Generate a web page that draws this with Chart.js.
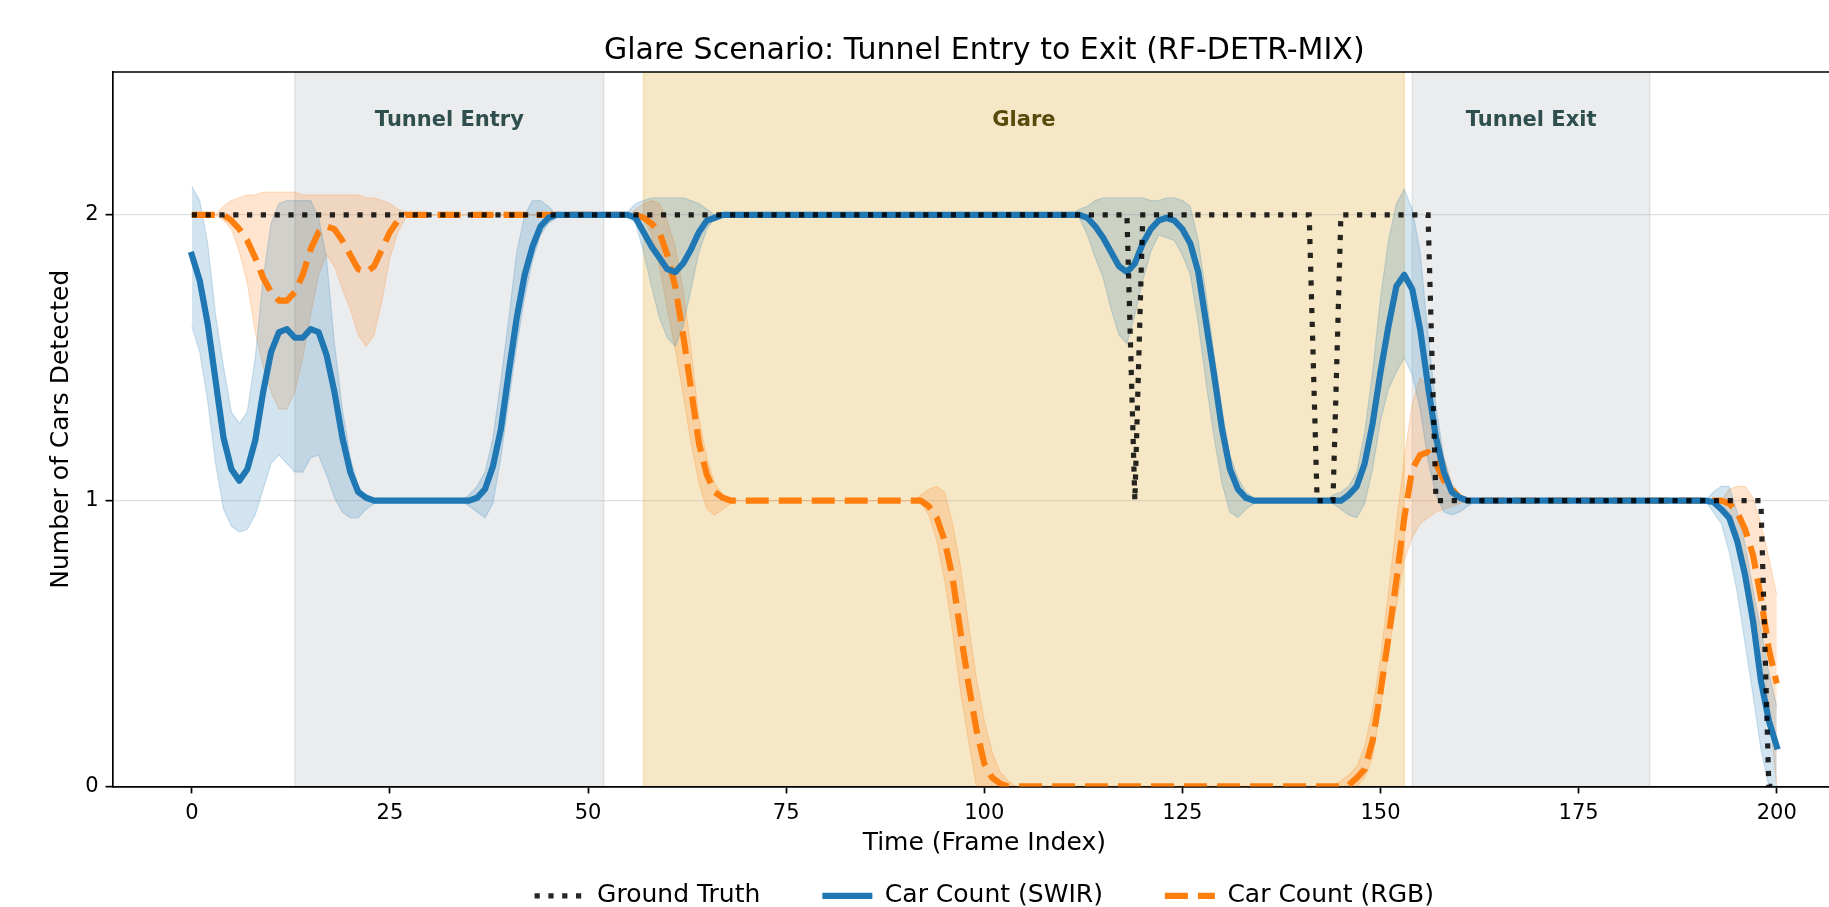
<!DOCTYPE html>
<html>
<head>
<meta charset="utf-8">
<title>Glare Scenario: Tunnel Entry to Exit (RF-DETR-MIX)</title>
<script src="https://cdn.jsdelivr.net/npm/chart.js@4.4.0/dist/chart.umd.min.js"></script>
<style>
    html, body { margin: 0; padding: 0; background: #fff; overflow: hidden; }
    #frame { width: 1829px; height: 907px; overflow: hidden; position: relative; }
    #box { width: 1870px; height: 907px; position: absolute; left: 0; top: 0; }
</style>
</head>
<body>
<div id="frame"><div id="box"><canvas id="glareChart"></canvas></div></div>
<script>
// Axis ticks
const frameTicks = [0, 25, 50, 75, 100, 125, 150, 175, 200];
const countTicks = [0, 1, 2];

// Scenario phases (frame ranges)
const phaseNames = ["Tunnel Entry", "Glare", "Tunnel Exit"];
const phaseStart = [13, 57, 154];
const phaseEnd = [52, 153, 184];

// Ground truth count
const gtFrames = [0, 118, 119, 120, 141, 142, 144, 145, 156, 157, 198, 199, 200];
const gtCount = [2, 2, 1, 2, 2, 1, 1, 2, 2, 1, 1, 0, 0];

// SWIR detections: mean and spread band
const swirFrames = [
    0, 1, 2, 3, 4, 5, 6, 7, 8, 9, 10, 11, 12, 13, 14, 15, 16, 17, 18, 19, 20, 21, 22, 23, 24,
    34, 35, 36, 37, 38, 39, 40, 41, 42, 43, 44, 45, 46, 47,
    55, 56, 57, 58, 59, 60, 61, 62, 63, 64, 65, 66, 67,
    111, 112, 113, 114, 115, 116, 117, 118, 119, 120, 121, 122, 123, 124, 125, 126, 127, 128, 129, 130, 131, 132, 133, 134, 135,
    143, 144, 145, 146, 147, 148, 149, 150, 151, 152, 153, 154, 155, 156, 157, 158, 159, 160, 161, 162,
    191, 192, 193, 194, 195, 196, 197, 198, 199, 200
];
const swirMean = [
    1.86, 1.77, 1.62, 1.42, 1.22, 1.11, 1.07, 1.11, 1.21, 1.38, 1.52, 1.59, 1.60, 1.57, 1.57, 1.60, 1.59, 1.51, 1.38, 1.22, 1.10, 1.03, 1.01, 1.00, 1.00,
    1.00, 1.00, 1.01, 1.04, 1.12, 1.25, 1.45, 1.64, 1.79, 1.89, 1.96, 1.99, 2.00, 2.00,
    2.00, 1.99, 1.94, 1.89, 1.85, 1.81, 1.80, 1.83, 1.88, 1.94, 1.98, 1.99, 2.00,
    2.00, 2.00, 1.99, 1.96, 1.92, 1.87, 1.82, 1.80, 1.83, 1.90, 1.95, 1.98, 1.99, 1.98, 1.95, 1.90, 1.80, 1.62, 1.44, 1.25, 1.11, 1.04, 1.01, 1.00, 1.00,
    1.00, 1.00, 1.00, 1.02, 1.05, 1.13, 1.27, 1.45, 1.61, 1.75, 1.79, 1.74, 1.60, 1.40, 1.22, 1.10, 1.03, 1.01, 1.00, 1.00,
    1.00, 0.995, 0.97, 0.94, 0.86, 0.74, 0.58, 0.37, 0.23, 0.14
];
const swirHigh = [
    2.10, 2.05, 1.90, 1.65, 1.47, 1.31, 1.27, 1.31, 1.50, 1.78, 1.97, 2.04, 2.05, 2.05, 2.05, 2.05, 1.99, 1.85, 1.55, 1.32, 1.15, 1.05, 1.01, 1.00, 1.00,
    1.00, 1.02, 1.05, 1.10, 1.22, 1.42, 1.64, 1.87, 2.00, 2.05, 2.05, 2.03, 2.00, 2.00,
    2.01, 2.04, 2.05, 2.06, 2.06, 2.06, 2.06, 2.06, 2.05, 2.04, 2.02, 2.00, 2.00,
    2.00, 2.02, 2.03, 2.05, 2.06, 2.06, 2.06, 2.06, 2.06, 2.06, 2.05, 2.05, 2.06, 2.06, 2.05, 2.03, 1.91, 1.72, 1.51, 1.32, 1.16, 1.08, 1.03, 1.01, 1.00,
    1.00, 1.02, 1.03, 1.05, 1.10, 1.24, 1.45, 1.71, 1.91, 2.04, 2.09, 2.02, 1.87, 1.58, 1.33, 1.15, 1.05, 1.02, 1.00, 1.00,
    1.00, 1.03, 1.05, 1.05, 0.96, 0.85, 0.69, 0.55, 0.40, 0.28
];
const swirLow = [
    1.61, 1.52, 1.35, 1.13, 0.97, 0.91, 0.89, 0.90, 0.95, 1.04, 1.13, 1.16, 1.13, 1.10, 1.10, 1.15, 1.16, 1.09, 1.01, 0.96, 0.94, 0.94, 0.97, 0.99, 1.00,
    1.00, 0.98, 0.96, 0.94, 0.99, 1.15, 1.35, 1.54, 1.71, 1.84, 1.93, 1.97, 1.99, 2.00,
    2.00, 1.97, 1.87, 1.75, 1.64, 1.57, 1.54, 1.61, 1.74, 1.87, 1.95, 1.99, 2.00,
    2.00, 1.99, 1.93, 1.85, 1.78, 1.67, 1.58, 1.55, 1.65, 1.77, 1.87, 1.93, 1.92, 1.91, 1.86, 1.79, 1.62, 1.41, 1.22, 1.06, 0.96, 0.94, 0.97, 0.99, 1.00,
    1.00, 0.99, 0.97, 0.95, 0.94, 0.99, 1.11, 1.28, 1.39, 1.45, 1.50, 1.44, 1.32, 1.14, 1.02, 0.96, 0.95, 0.96, 0.98, 1.00,
    1.00, 0.96, 0.92, 0.82, 0.68, 0.50, 0.32, 0.13, 0.00, 0.00
];

// RGB detections: mean and spread band
const rgbFrames = [
    0, 3, 4, 5, 6, 7, 8, 9, 10, 11, 12, 13, 14, 15, 16, 17, 18, 19, 20, 21, 22, 23, 24, 25, 26, 27, 28,
    55, 56, 57, 58, 59, 60, 61, 62, 63, 64, 65, 66, 67, 68, 69,
    91, 92, 93, 94, 95, 96, 97, 98, 99, 100, 101, 102, 103, 104,
    144, 145, 146, 147, 148, 149, 150, 151, 152, 153, 154, 155, 156, 157, 158, 159, 160, 161,
    193, 194, 195, 196, 197, 198, 199, 200
];
const rgbMean = [
    2.00, 2.00, 2.00, 1.98, 1.95, 1.91, 1.85, 1.78, 1.73, 1.70, 1.70, 1.73, 1.79, 1.88, 1.94, 1.96, 1.95, 1.91, 1.86, 1.81, 1.80, 1.82, 1.88, 1.94, 1.98, 2.00, 2.00,
    2.00, 2.00, 1.99, 1.97, 1.94, 1.86, 1.75, 1.58, 1.39, 1.20, 1.09, 1.03, 1.01, 1.00, 1.00,
    1.00, 1.00, 0.98, 0.94, 0.86, 0.73, 0.54, 0.36, 0.20, 0.08, 0.03, 0.01, 0.00, 0.00,
    0.00, 0.00, 0.005, 0.03, 0.06, 0.16, 0.33, 0.52, 0.72, 0.94, 1.11, 1.16, 1.17, 1.13, 1.07, 1.04, 1.01, 1.00,
    1.00, 0.99, 0.96, 0.90, 0.81, 0.66, 0.48, 0.36
];
const rgbHigh = [
    2.00, 2.00, 2.03, 2.05, 2.06, 2.07, 2.07, 2.08, 2.08, 2.08, 2.08, 2.08, 2.07, 2.07, 2.07, 2.07, 2.07, 2.07, 2.07, 2.07, 2.06, 2.06, 2.05, 2.04, 2.02, 2.01, 2.00,
    2.00, 2.02, 2.04, 2.05, 2.04, 1.98, 1.89, 1.74, 1.53, 1.29, 1.15, 1.06, 1.02, 1.01, 1.00,
    1.00, 1.02, 1.04, 1.05, 1.03, 0.92, 0.77, 0.57, 0.38, 0.23, 0.12, 0.05, 0.02, 0.00,
    0.00, 0.02, 0.04, 0.07, 0.14, 0.27, 0.45, 0.68, 0.92, 1.15, 1.34, 1.43, 1.40, 1.27, 1.15, 1.06, 1.02, 1.00,
    1.00, 1.04, 1.05, 1.05, 1.01, 0.92, 0.80, 0.67
];
const rgbLow = [
    2.00, 2.00, 1.98, 1.95, 1.87, 1.76, 1.59, 1.47, 1.38, 1.32, 1.32, 1.38, 1.50, 1.65, 1.79, 1.86, 1.82, 1.74, 1.67, 1.58, 1.54, 1.58, 1.70, 1.85, 1.94, 1.99, 2.00,
    2.00, 2.00, 1.99, 1.93, 1.82, 1.67, 1.53, 1.37, 1.20, 1.06, 0.97, 0.95, 0.97, 0.99, 1.00,
    1.00, 0.99, 0.95, 0.86, 0.72, 0.54, 0.33, 0.16, 0.00, 0.00, 0.00, 0.00, 0.00, 0.00,
    0.00, 0.00, 0.00, 0.00, 0.03, 0.10, 0.27, 0.47, 0.63, 0.79, 0.87, 0.92, 0.94, 0.96, 0.97, 0.98, 0.99, 1.00,
    1.00, 0.95, 0.89, 0.79, 0.65, 0.48, 0.28, 0.00
];

Chart.defaults.font.family = "'DejaVu Sans', sans-serif";
Chart.defaults.color = "#000";

const toPoints = (xs, ys) => xs.map((x, i) => ({ x: x, y: ys[i] }));

// shaded phases behind the data, labels and top spine on top
const phaseFill = ["rgba(112,128,144,0.15)", "rgba(218,165,32,0.25)", "rgba(112,128,144,0.15)"];
const phaseInk = ["#2f4f4f", "#5a4a0c", "#2f4f4f"];

const phasePlugin = {
    id: "phases",
    beforeDraw(chart) {
        const { ctx, chartArea, scales } = chart;
        ctx.save();
        for (let i = 0; i < phaseNames.length; i++) {
            const x1 = scales.x.getPixelForValue(phaseStart[i]);
            const x2 = scales.x.getPixelForValue(phaseEnd[i]);
            ctx.fillStyle = phaseFill[i];
            ctx.fillRect(x1, chartArea.top, x2 - x1, chartArea.bottom - chartArea.top);
            ctx.strokeStyle = phaseFill[i];
            ctx.lineWidth = 1.5;
            ctx.beginPath();
            ctx.moveTo(x1, chartArea.top);
            ctx.lineTo(x1, chartArea.bottom);
            ctx.moveTo(x2, chartArea.top);
            ctx.lineTo(x2, chartArea.bottom);
            ctx.stroke();
        }
        ctx.restore();
    },
    afterDraw(chart) {
        const { ctx, chartArea, scales } = chart;
        ctx.save();
        ctx.font = "bold 21px 'DejaVu Sans'";
        ctx.textAlign = "center";
        ctx.textBaseline = "middle";
        const yLab = scales.y.getPixelForValue(2.33);
        for (let i = 0; i < phaseNames.length; i++) {
            const xc = scales.x.getPixelForValue((phaseStart[i] + phaseEnd[i]) / 2);
            ctx.fillStyle = phaseInk[i];
            ctx.fillText(phaseNames[i], xc, yLab);
        }
        ctx.strokeStyle = "#000";
        ctx.lineWidth = 1.7;
        ctx.beginPath();
        ctx.moveTo(chartArea.left, chartArea.top);
        ctx.lineTo(chartArea.right, chartArea.top);
        ctx.stroke();
        ctx.restore();
    }
};

// legend handles take the dash and width of their line
function lineLegendLabels(chart) {
    const items = Chart.defaults.plugins.legend.labels.generateLabels(chart);
    items.forEach((item) => {
        const ds = chart.data.datasets[item.datasetIndex];
        item.lineDash = ds.borderDash || [];
        item.lineWidth = ds.borderWidth;
        item.strokeStyle = ds.borderColor;
        item.lineCap = "butt";
    });
    return items;
}

const ctx = document.getElementById("glareChart").getContext("2d");
new Chart(ctx, {
    type: "line",
    data: {
        datasets: [
            {
                label: "Ground Truth",
                data: toPoints(gtFrames, gtCount),
                borderColor: "rgba(0,0,0,0.85)",
                borderWidth: 5.2,
                borderDash: [5.2, 8.6],
                borderCapStyle: "butt",
                pointRadius: 0,
                fill: false,
            },
            {
                label: "Car Count (SWIR)",
                data: toPoints(swirFrames, swirMean),
                borderColor: "#1f77b4",
                borderWidth: 6.2,
                borderCapStyle: "square",
                borderJoinStyle: "round",
                pointRadius: 0,
                fill: false,
            },
            {
                label: "Car Count (RGB)",
                data: toPoints(rgbFrames, rgbMean),
                borderColor: "#ff7f0e",
                borderWidth: 6.2,
                borderDash: [23, 10],
                borderJoinStyle: "round",
                pointRadius: 0,
                fill: false,
            },
            {
                label: "SWIR high",
                data: toPoints(swirFrames, swirHigh),
                borderColor: "rgba(31,119,180,0.2)",
                backgroundColor: "rgba(31,119,180,0.2)",
                borderWidth: 1.2,
                pointRadius: 0,
                fill: "+1",
            },
            {
                label: "SWIR low",
                data: toPoints(swirFrames, swirLow),
                borderColor: "rgba(31,119,180,0.2)",
                borderWidth: 1.2,
                pointRadius: 0,
                fill: false,
            },
            {
                label: "RGB high",
                data: toPoints(rgbFrames, rgbHigh),
                borderColor: "rgba(255,127,14,0.2)",
                backgroundColor: "rgba(255,127,14,0.2)",
                borderWidth: 1.2,
                pointRadius: 0,
                fill: "+1",
            },
            {
                label: "RGB low",
                data: toPoints(rgbFrames, rgbLow),
                borderColor: "rgba(255,127,14,0.2)",
                borderWidth: 1.2,
                pointRadius: 0,
                fill: false,
            },
        ],
    },
    options: {
        responsive: true,
        maintainAspectRatio: false,
        animation: false,
        layout: { padding: { left: 40.3, right: 14, top: 0, bottom: 0 } },
        plugins: {
            title: {
                display: true,
                text: "Glare Scenario: Tunnel Entry to Exit (RF-DETR-MIX)",
                fullSize: false,
                color: "#000",
                font: { size: 30, weight: "normal" },
                padding: { top: 33.3, bottom: 2.7 },
            },
            legend: {
                position: "bottom",
                fullSize: false,
                maxHeight: 85.7,
                labels: {
                    usePointStyle: true,
                    pointStyle: "line",
                    pointStyleWidth: 50,
                    padding: 62,
                    color: "#000",
                    font: { size: 25 },
                    generateLabels: lineLegendLabels,
                    filter: (item) => item.datasetIndex < 3,
                },
            },
            tooltip: { enabled: false },
        },
        scales: {
            x: {
                type: "linear",
                min: -10,
                max: 210,
                afterBuildTicks: (axis) => { axis.ticks = frameTicks.map((v) => ({ value: v })); },
                ticks: { color: "#000", font: { size: 21 }, padding: 8 },
                grid: { drawOnChartArea: false, tickLength: 7, tickColor: "#000", tickWidth: 1.7 },
                border: { color: "#000", width: 1.7 },
                title: {
                    display: true,
                    text: "Time (Frame Index)",
                    color: "#000",
                    font: { size: 25 },
                    padding: { top: -6.5, bottom: -36.8 },
                },
            },
            y: {
                min: 0,
                max: 2.5,
                afterBuildTicks: (axis) => { axis.ticks = countTicks.map((v) => ({ value: v })); },
                ticks: { color: "#000", font: { size: 21 }, padding: 7 },
                grid: { color: "rgba(176,176,176,0.4)", lineWidth: 1.3, tickLength: 7, tickColor: "#000", tickWidth: 1.7 },
                border: { color: "#000", width: 1.7 },
                title: {
                    display: true,
                    text: "Number of Cars Detected",
                    color: "#000",
                    font: { size: 25 },
                    padding: { top: 5.7, bottom: 2.2 },
                },
            },
        },
    },
    plugins: [phasePlugin],
});
</script>
</body>
</html>
